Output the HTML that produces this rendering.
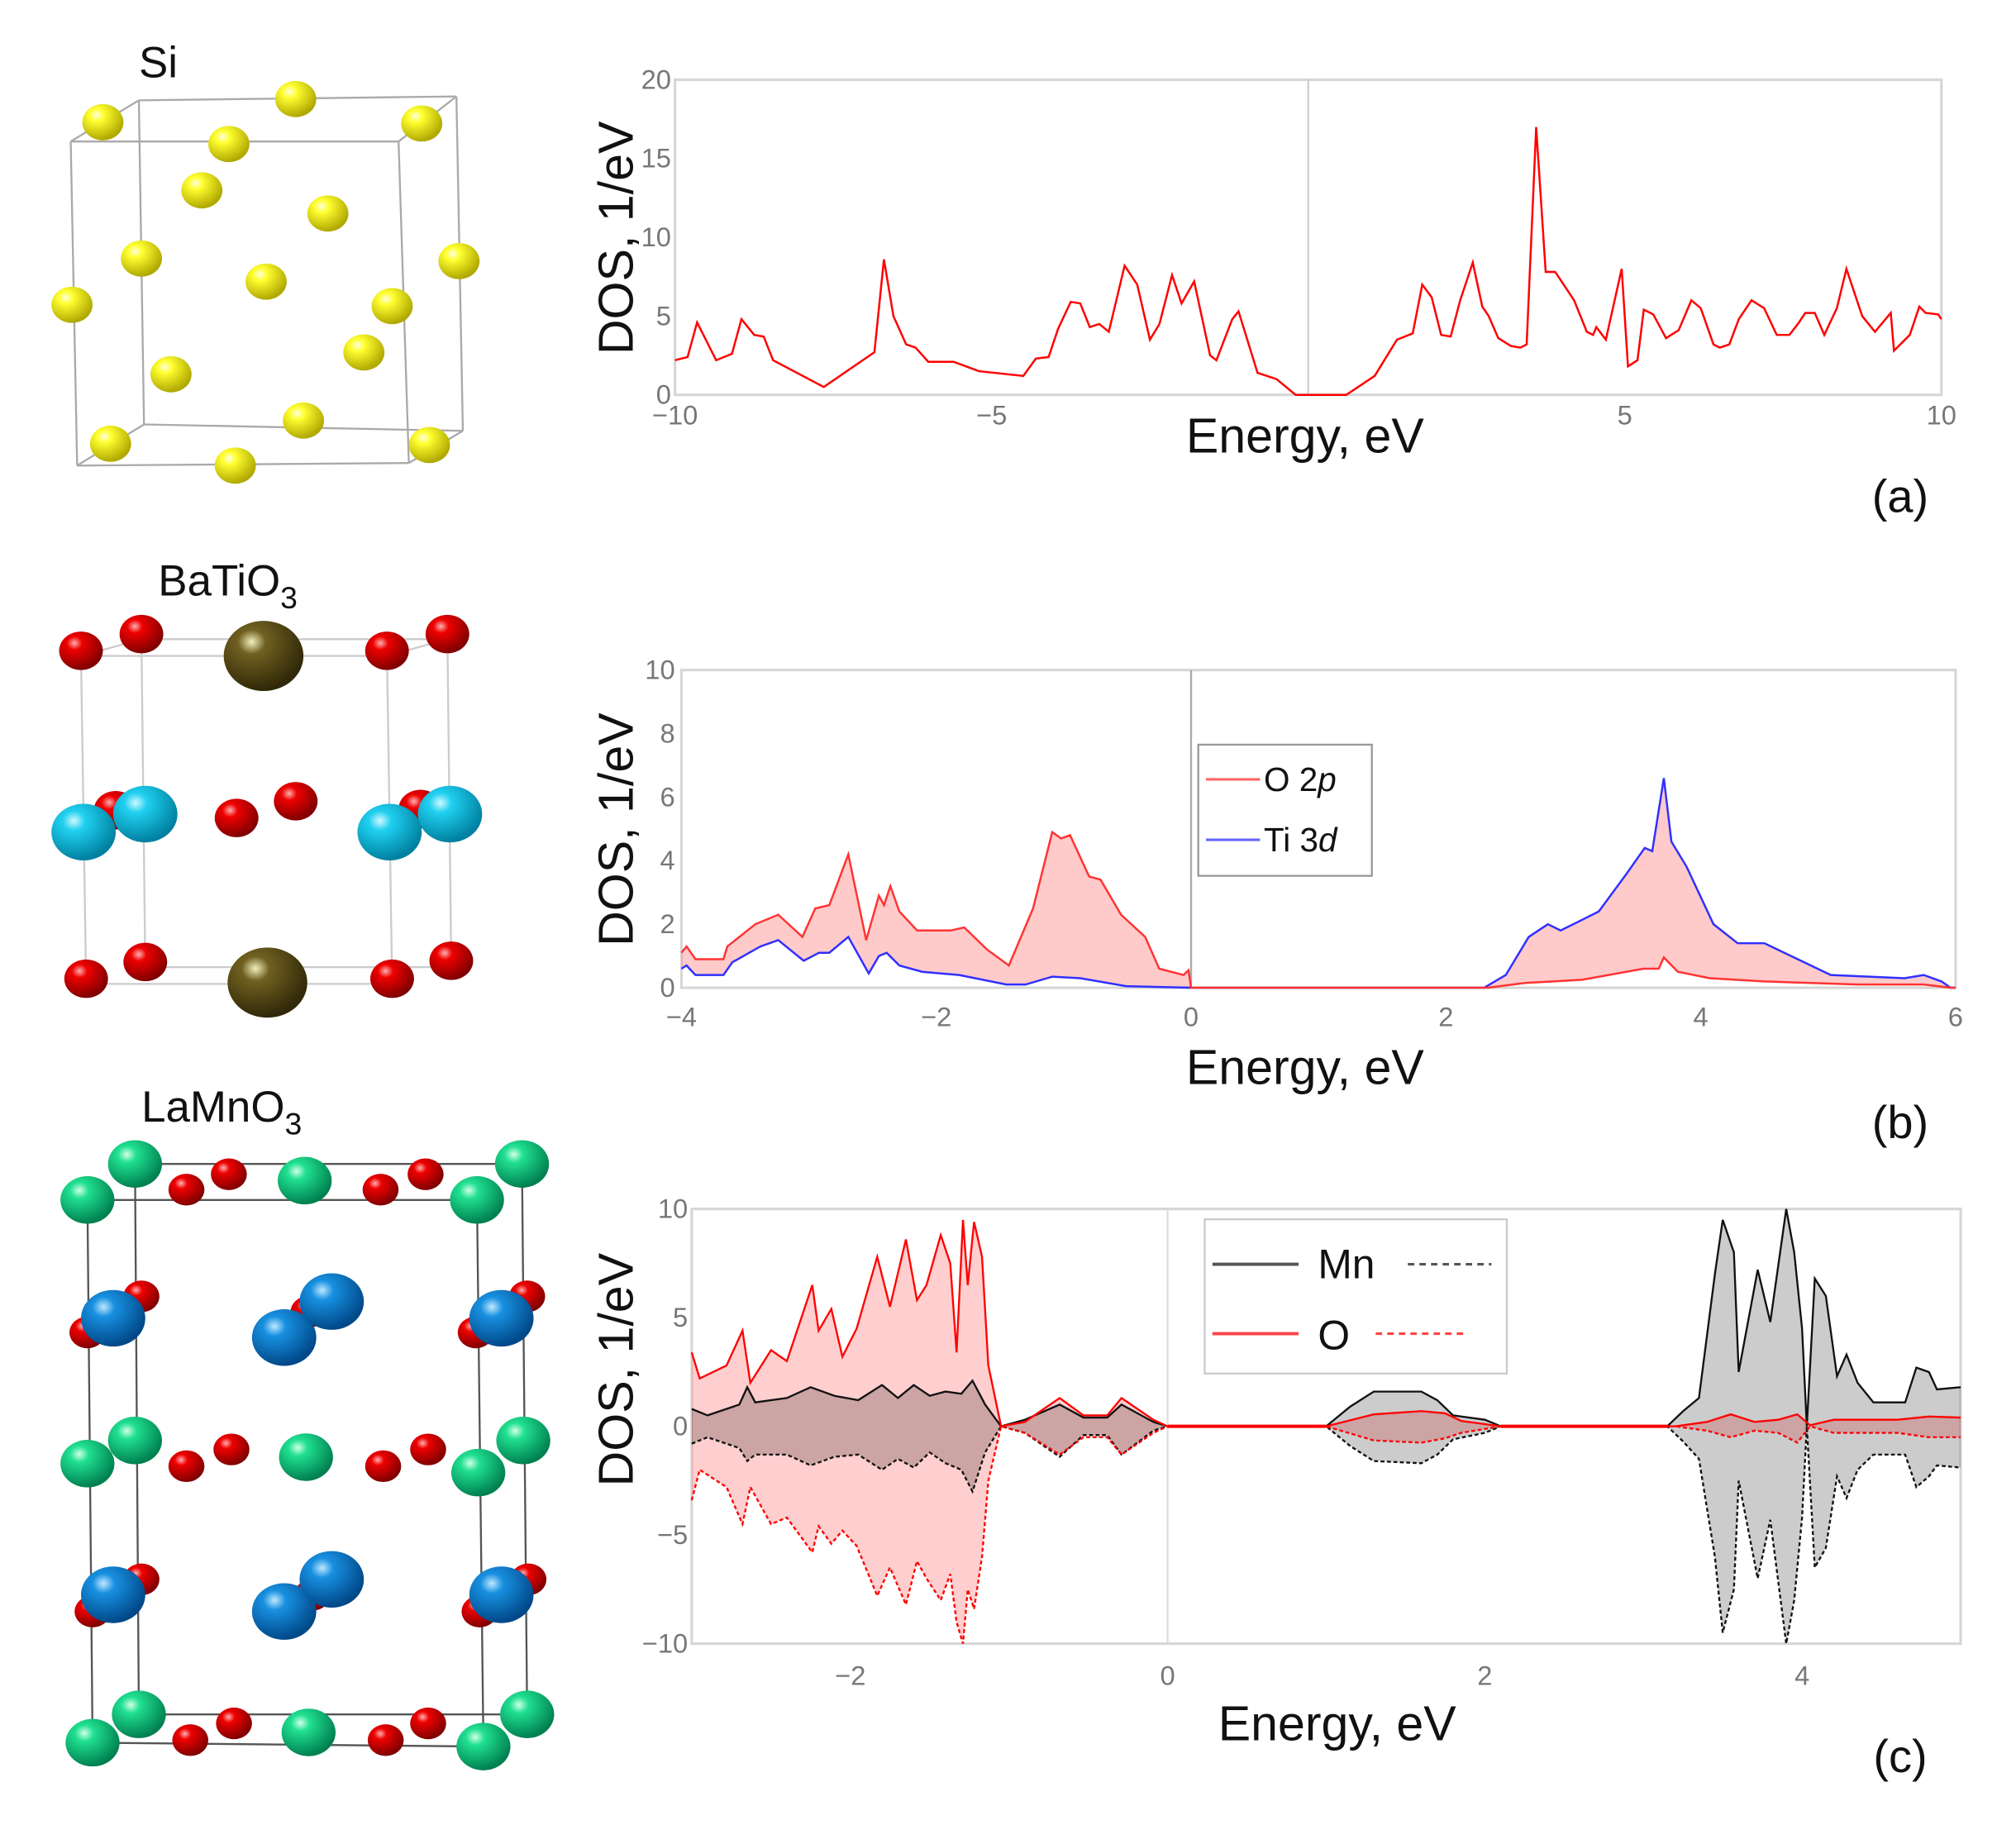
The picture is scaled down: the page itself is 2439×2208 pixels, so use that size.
<!DOCTYPE html>
<html><head><meta charset="utf-8"><style>
html,body{margin:0;padding:0;background:#fff;}
svg{display:block;}
text{font-family:"Liberation Sans",sans-serif;}
</style></head><body>
<svg id="fig" width="2439" height="2208" viewBox="0 0 1568 1419" preserveAspectRatio="none" xmlns="http://www.w3.org/2000/svg">
<defs>
<radialGradient id="gY" cx="0.35" cy="0.3" r="0.7"><stop offset="0" stop-color="#ffffe0"/><stop offset="0.25" stop-color="#ffff30"/><stop offset="1" stop-color="#b0a800"/></radialGradient>
<radialGradient id="gR" cx="0.35" cy="0.3" r="0.7"><stop offset="0" stop-color="#ffb0b0"/><stop offset="0.25" stop-color="#ee0000"/><stop offset="1" stop-color="#800000"/></radialGradient>
<radialGradient id="gC" cx="0.35" cy="0.3" r="0.7"><stop offset="0" stop-color="#d0f8ff"/><stop offset="0.25" stop-color="#20d0f0"/><stop offset="1" stop-color="#0080a0"/></radialGradient>
<radialGradient id="gBr" cx="0.35" cy="0.3" r="0.7"><stop offset="0" stop-color="#f0f0c0"/><stop offset="0.25" stop-color="#706020"/><stop offset="1" stop-color="#302808"/></radialGradient>
<radialGradient id="gG" cx="0.35" cy="0.3" r="0.7"><stop offset="0" stop-color="#d0ffe8"/><stop offset="0.25" stop-color="#20e090"/><stop offset="1" stop-color="#008050"/></radialGradient>
<radialGradient id="gB" cx="0.35" cy="0.3" r="0.7"><stop offset="0" stop-color="#c0e8ff"/><stop offset="0.25" stop-color="#1890e0"/><stop offset="1" stop-color="#004888"/></radialGradient>
</defs>
<g id="structs"></g>
<g id="plots"></g>
</svg>
<script>
// ---------- Panel (a) Si DOS ----------
const siE=[-10,-9.8,-9.65,-9.35,-9.1,-8.95,-8.75,-8.6,-8.45,-7.65,-6.85,-6.7,-6.55,-6.35,-6.2,-6.0,-5.6,-5.2,-4.5,-4.3,-4.1,-3.95,-3.75,-3.6,-3.45,-3.3,-3.15,-2.9,-2.7,-2.5,-2.35,-2.15,-2.0,-1.8,-1.55,-1.45,-1.2,-1.1,-0.8,-0.5,-0.2,0.6,1.05,1.4,1.65,1.8,1.95,2.1,2.25,2.4,2.6,2.75,2.85,3.0,3.2,3.35,3.45,3.6,3.75,3.9,4.2,4.4,4.5,4.55,4.7,4.95,5.05,5.2,5.3,5.45,5.65,5.85,6.05,6.2,6.4,6.5,6.65,6.8,7.0,7.2,7.4,7.6,7.75,7.85,8.0,8.15,8.35,8.5,8.75,8.95,9.2,9.25,9.5,9.65,9.75,9.95,10];
const siDOS=[2.2,2.4,4.6,2.2,2.6,4.8,3.8,3.7,2.2,0.5,2.7,8.6,5,3.2,3,2.1,2.1,1.5,1.2,2.3,2.4,4.2,5.9,5.8,4.3,4.5,4,8.2,7,3.5,4.5,7.6,5.8,7.2,2.5,2.2,4.8,5.3,1.4,1,0,0,1.2,3.5,3.9,7,6.2,3.8,3.7,6,8.4,5.6,5,3.6,3.1,3,3.2,17,7.8,7.8,6,4,3.8,4.3,3.5,8,1.8,2.2,5.4,5.1,3.6,4.1,6,5.5,3.2,3,3.2,4.8,6,5.5,3.8,3.8,4.6,5.2,5.2,3.8,5.5,8,5,4,5.2,2.8,3.8,5.6,5.2,5.1,4.8];
const aXTicks=[-10,-5,5,10];
const aYTicks=[0,5,10,15,20];
// ---------- Panel (b) BaTiO3 ----------
const oE=[-4,-3.96,-3.89,-3.67,-3.64,-3.42,-3.24,-3.05,-2.95,-2.84,-2.69,-2.55,-2.45,-2.41,-2.36,-2.29,-2.15,-1.89,-1.78,-1.6,-1.43,-1.24,-1.09,-1.02,-0.95,-0.8,-0.71,-0.55,-0.36,-0.25,-0.06,-0.02,0,2.33,2.62,3.07,3.55,3.67,3.71,3.82,4.07,4.5,5.24,5.75,5.96,6];
const oDOS=[1.1,1.3,0.9,0.9,1.3,2.0,2.3,1.6,2.5,2.6,4.2,1.5,2.9,2.6,3.2,2.4,1.8,1.8,1.9,1.2,0.7,2.5,4.9,4.7,4.8,3.5,3.4,2.3,1.6,0.6,0.4,0.55,0,0,0.15,0.25,0.6,0.6,0.95,0.5,0.3,0.2,0.1,0.1,0,0];
const tiE=[-4,-3.96,-3.89,-3.67,-3.6,-3.38,-3.24,-3.04,-2.92,-2.84,-2.69,-2.53,-2.45,-2.39,-2.29,-2.11,-1.82,-1.45,-1.3,-1.09,-0.87,-0.51,0,2.3,2.47,2.65,2.8,2.9,3.2,3.42,3.56,3.62,3.71,3.77,3.89,4.1,4.29,4.5,5.02,5.6,5.75,5.89,5.96,6];
const tiDOS=[0.6,0.7,0.4,0.4,0.8,1.3,1.5,0.85,1.1,1.1,1.6,0.45,1.0,1.1,0.7,0.5,0.4,0.1,0.1,0.35,0.3,0.05,0,0,0.4,1.6,2.0,1.8,2.4,3.6,4.4,4.3,6.6,4.6,3.8,2.0,1.4,1.4,0.4,0.3,0.4,0.2,0,0];
const bXTicks=[-4,-2,0,2,4,6];
const bYTicks=[0,2,4,6,8,10];
// ---------- Panel (c) LaMnO3 ----------
const cE=[-3,-2.95,-2.78,-2.68,-2.63,-2.5,-2.4,-2.24,-2.2,-2.12,-2.05,-1.96,-1.83,-1.75,-1.65,-1.58,-1.52,-1.43,-1.37,-1.33,-1.29,-1.26,-1.22,-1.17,-1.13,-1.05,-0.9,-0.68,-0.53,-0.38,-0.29,-0.09,0,1.0,1.3,1.6,1.75,1.85,2.1,3.2,3.4,3.55,3.7,3.85,3.97,4.05,4.2,4.6,4.8,5];
const oUp=[3.4,2.2,2.8,4.4,2.0,3.5,3.0,6.5,4.4,5.4,3.2,4.5,7.8,5.5,8.6,5.8,6.5,8.8,7.5,3.4,9.5,6.5,9.4,7.8,2.8,0,0.2,1.3,0.5,0.5,1.3,0.3,0,0,0.55,0.7,0.6,0.25,0,0,0.2,0.55,0.2,0.3,0.55,0.05,0.3,0.3,0.45,0.4];
const oDown=[-3.4,-2.0,-2.8,-4.5,-2.8,-4.5,-4.2,-5.8,-4.6,-5.4,-4.8,-5.5,-7.8,-6.5,-8.2,-6.2,-7.0,-8.0,-6.8,-9.0,-10,-7.5,-8.4,-6,-2.5,0,-0.3,-1.3,-0.5,-0.5,-1.3,-0.3,0,0,-0.65,-0.75,-0.55,-0.3,0,0,-0.2,-0.5,-0.2,-0.3,-0.75,0,-0.3,-0.3,-0.5,-0.5];
const mnE=[-3,-2.9,-2.7,-2.65,-2.6,-2.4,-2.25,-2.1,-1.95,-1.8,-1.7,-1.6,-1.5,-1.4,-1.3,-1.23,-1.15,-1.05,-0.9,-0.68,-0.53,-0.38,-0.29,-0.09,0,1.0,1.15,1.3,1.6,1.7,1.8,2.0,2.1,3.15,3.25,3.35,3.45,3.5,3.57,3.6,3.72,3.8,3.9,3.95,4.0,4.03,4.08,4.15,4.22,4.28,4.35,4.45,4.65,4.72,4.8,4.85,5];
const mnUp=[0.8,0.5,1.0,1.8,1.1,1.3,1.8,1.4,1.2,1.9,1.3,1.9,1.4,1.6,1.5,2.1,1.0,0,0.3,1.0,0.4,0.4,1.0,0.2,0,0,0.9,1.6,1.6,1.2,0.5,0.3,0,0,0.7,1.3,7,9.5,8.0,2.5,7.2,4.8,10,8,4.5,0,6.8,6.0,2.3,3.3,2.0,1.1,1.1,2.7,2.5,1.7,1.8];
const mnDown=[-0.8,-0.5,-1.0,-1.6,-1.3,-1.3,-1.8,-1.4,-1.3,-2.0,-1.5,-1.9,-1.2,-1.7,-2.0,-3.0,-1.2,0,-0.3,-1.4,-0.4,-0.4,-1.3,-0.2,0,0,-0.9,-1.6,-1.7,-1.3,-0.6,-0.3,0,0,-0.7,-1.5,-6,-9.5,-7.5,-2.5,-7.0,-4.3,-10,-8,-4.2,0,-6.5,-5.6,-2.3,-3.3,-2.0,-1.3,-1.3,-2.8,-2.3,-1.8,-1.9];
const cXTicks=[-2,0,2,4];
const cYTicks=[-10,-5,0,5,10];

const NS='http://www.w3.org/2000/svg';
function mk(tag,attrs,parent,txt){const e=document.createElementNS(NS,tag);for(const k in attrs)e.setAttribute(k,attrs[k]);if(txt!==undefined)e.textContent=txt;parent.appendChild(e);return e;}
const plots=document.getElementById('plots');
const structs=document.getElementById('structs');

function axes(x0,x1,y0,y1,X0,X1,Y0,Y1){
  return {sx:v=>X0+(v-x0)/(x1-x0)*(X1-X0), sy:v=>Y0+(v-y0)/(y1-y0)*(Y1-Y0)};
}
function pts(xs,ys,A){return xs.map((x,i)=>A.sx(x).toFixed(1)+','+A.sy(ys[i]).toFixed(1));}

function frame(g,X0,X1,Ytop,Ybot,name){
  const r=mk('rect',{x:X0,y:Ytop,width:X1-X0,height:Ybot-Ytop,fill:'none',stroke:'#d6d6d6','stroke-width':2},g);
  
  
}
function ticks(g,A,xt,yt,Ybot,X0,name,ylabelX,xLabelY){
  xt.forEach(t=>{const e=mk('text',{x:A.sx(t),y:xLabelY,'text-anchor':'middle','font-size':21,fill:'#777'},g,t<0?'\u2212'+(-t):String(t));
    
    });
  yt.forEach(t=>{const e=mk('text',{x:ylabelX,y:A.sy(t)+7,'text-anchor':'end','font-size':21,fill:'#777'},g,t<0?'\u2212'+(-t):String(t));
    
    });
}
function labels(g,cy,ex,ey,px,py,letter,name){
  const yl=mk('text',{x:0,y:0,transform:`translate(492,${cy}) rotate(-90)`,'text-anchor':'middle','font-size':38,fill:'#111'},g,'DOS, 1/eV');
  
  
  const xl=mk('text',{x:ex,y:ey,'text-anchor':'middle','font-size':38,fill:'#111'},g,'Energy, eV');
  
  
  const pl=mk('text',{x:px,y:py,'text-anchor':'middle','font-size':36,fill:'#111'},g,letter);
  
  
}

// Panel a
{
  const g=mk('g',{},plots);
  const A=axes(-10,10,0,20,525,1510,307,62);
  frame(g,525,1510,62,307,'panel-a');
  mk('line',{x1:A.sx(0),x2:A.sx(0),y1:62,y2:307,stroke:'#cfcfcf','stroke-width':1.5},g);
  ticks(g,A,aXTicks,aYTicks,307,525,'panel-a',522,330);
  const l=mk('polyline',{points:pts(siE,siDOS,A).join(' '),fill:'none',stroke:'#f00','stroke-width':1.6},g);
  
  
  labels(g,185,1015,352,1478,398,'(a)','panel-a');
}
// Panel b
{
  const g=mk('g',{},plots);
  const A=axes(-4,6,0,10,530,1521,768,521);
  frame(g,530,1521,521,768,'panel-b');
  mk('line',{x1:A.sx(0),x2:A.sx(0),y1:521,y2:768,stroke:'#aaa','stroke-width':1.5},g);
  ticks(g,A,bXTicks,bYTicks,768,530,'panel-b',525,798);
  const fp=pts(oE,oDOS,A).concat(pts(tiE,tiDOS,A).reverse());
  const f=mk('polygon',{points:fp.join(' '),fill:'rgba(255,80,80,0.3)',stroke:'none'},g);
  
  
  const lb=mk('polyline',{points:pts(tiE,tiDOS,A).join(' '),fill:'none',stroke:'#3030ff','stroke-width':1.6},g);
  
  
  const lr=mk('polyline',{points:pts(oE,oDOS,A).join(' '),fill:'none',stroke:'#f33','stroke-width':1.6},g);
  
  
  const lg=mk('g',{},g);
  mk('rect',{x:932,y:579,width:135,height:102,fill:'#fff',stroke:'#999','stroke-width':1.5},lg);
  mk('line',{x1:938,x2:980,y1:606,y2:606,stroke:'#f66','stroke-width':2},lg);
  mk('line',{x1:938,x2:980,y1:653,y2:653,stroke:'#66f','stroke-width':2},lg);
  const t1=mk('text',{x:983,y:615,'font-size':26,fill:'#111'},lg);t1.innerHTML='O 2<tspan font-style="italic">p</tspan>';
  
  const t2=mk('text',{x:983,y:662,'font-size':26,fill:'#111'},lg);t2.innerHTML='Ti 3<tspan font-style="italic">d</tspan>';
  
  labels(g,645,1015,843,1478,885,'(b)','panel-b');
}
// Panel c
{
  const g=mk('g',{},plots);
  const A=axes(-3,5,-10,10,538,1525,1278,940);
  frame(g,538,1525,940,1278,'panel-c');
  mk('line',{x1:A.sx(0),x2:A.sx(0),y1:940,y2:1278,stroke:'#ddd','stroke-width':1.5},g);
  ticks(g,A,cXTicks,cYTicks,1278,538,'panel-c',535,1310);
  const z=A.sy(0);
  function area(xs,ys,fill,name){const p=pts(xs,ys,A);p.unshift(A.sx(xs[0]).toFixed(1)+','+z);p.push(A.sx(xs[xs.length-1]).toFixed(1)+','+z);
    const e=mk('polygon',{points:p.join(' '),fill:fill,stroke:'none'},g);
    
    }
  area(cE,oUp,'rgba(255,60,60,0.25)','o-up-fill');
  area(cE,oDown,'rgba(255,60,60,0.25)','o-down-fill');
  area(mnE,mnUp,'rgba(0,0,0,0.2)','mn-up-fill');
  area(mnE,mnDown,'rgba(0,0,0,0.2)','mn-down-fill');
  function line(xs,ys,col,dash,name){const e=mk('polyline',{points:pts(xs,ys,A).join(' '),fill:'none',stroke:col,'stroke-width':1.5,'stroke-dasharray':dash},g);
    
    }
  line(mnE,mnUp,'#111','none','mn-up-line');
  line(mnE,mnDown,'#111','3,2','mn-down-line');
  line(cE,oUp,'#f00','none','o-up-line');
  line(cE,oDown,'#f00','3,2','o-down-line');
  mk('line',{x1:A.sx(0),x2:A.sx(1),y1:z,y2:z,stroke:'#f00','stroke-width':2.5},g);
  mk('line',{x1:A.sx(2.1),x2:A.sx(3.15),y1:z,y2:z,stroke:'#f00','stroke-width':2.5},g);
  const lg=mk('g',{},g);
  mk('rect',{x:937,y:948,width:235,height:120,fill:'#fff',stroke:'#ccc','stroke-width':1.5},lg);
  mk('line',{x1:943,x2:1010,y1:983,y2:983,stroke:'#555','stroke-width':2.5},lg);
  mk('line',{x1:1095,x2:1160,y1:983,y2:983,stroke:'#555','stroke-width':2,'stroke-dasharray':'5,4'},lg);
  mk('line',{x1:943,x2:1010,y1:1037,y2:1037,stroke:'#f44','stroke-width':2.5},lg);
  mk('line',{x1:1070,x2:1138,y1:1037,y2:1037,stroke:'#f44','stroke-width':2,'stroke-dasharray':'5,4'},lg);
  const m=mk('text',{x:1025,y:994,'font-size':32,fill:'#111'},lg,'Mn');
  const o=mk('text',{x:1025,y:1049,'font-size':32,fill:'#111'},lg,'O');
  labels(g,1065,1040,1353,1478,1378,'(c)','panel-c');
}

// ---------- Crystal structures ----------
function atom(g,x,y,r,grad,name){const e=mk('ellipse',{cx:x,cy:y,rx:r,ry:r*0.88,fill:'url(#'+grad+')'},g);
  
  }
function lines(g,segs,col){segs.forEach(s=>mk('line',{x1:s[0],y1:s[1],x2:s[2],y2:s[3],stroke:col,'stroke-width':1.5},g));}
{
  const g=mk('g',{},structs);
  lines(g,[[55,110,310,110],[310,110,318,360],[318,360,60,362],[60,362,55,110],[108,78,355,75],[355,75,360,335],[360,335,112,330],[112,330,108,78],[55,110,108,78],[310,110,355,75],[318,360,360,335],[60,362,112,330]],'#aaa');
  [[80,95],[230,77],[328,96],[178,112],[157,148],[255,166],[110,201],[357,203],[207,219],[56,237],[305,238],[283,274],[133,291],[236,327],[86,345],[334,346],[183,362]].forEach(p=>atom(g,p[0],p[1],16,'gY','si-atom'));
  const t=mk('text',{x:108,y:60,'font-size':34,fill:'#111'},g,'Si');
}
{
  const g=mk('g',{},structs);
  lines(g,[[63,510,301,510],[110,497,348,497],[63,765,305,765],[113,752,351,752],[63,510,67,765],[110,497,113,752],[301,510,305,765],[348,497,351,752],[63,510,110,497],[301,510,348,497]],'#ccc');
  [[63,506],[110,493],[301,506],[348,493],[90,630],[184,636],[230,623],[327,629],[67,761],[113,748],[305,761],[351,747]].forEach(p=>atom(g,p[0],p[1],17,'gR','o-atom'));
  [[113,633],[350,633],[65,647],[303,647]].forEach(p=>atom(g,p[0],p[1],25,'gC','ti-atom'));
  [[205,510],[208,764]].forEach(p=>atom(g,p[0],p[1],31,'gBr','ba-atom'));
  const t=mk('text',{x:123,y:463,'font-size':34,fill:'#111'},g);t.innerHTML='BaTiO<tspan font-size="24" dy="10">3</tspan>';
  
}
{
  const g=mk('g',{},structs);
  lines(g,[[68,933,371,933],[105,905,406,905],[72,1355,376,1358],[108,1333,410,1333],[68,933,72,1355],[105,905,108,1333],[371,933,376,1358],[406,905,410,1333]],'#555');
  [[68,933],[105,905],[237,918],[371,933],[406,905],[68,1138],[105,1120],[238,1133],[372,1145],[407,1120],[72,1355],[108,1333],[240,1347],[376,1358],[410,1333]].forEach(p=>atom(g,p[0],p[1],21,'gG','la-atom'));
  [[145,925],[178,913],[296,925],[331,913],[110,1008],[68,1036],[240,1020],[370,1036],[410,1008],[145,1140],[180,1127],[298,1140],[333,1127],[110,1228],[72,1253],[243,1240],[373,1253],[411,1228],[148,1353],[182,1340],[300,1353],[333,1340]].forEach(p=>atom(g,p[0],p[1],14,'gR','o-atom'));
  [[88,1025],[221,1040],[258,1012],[390,1025],[88,1240],[221,1253],[258,1228],[390,1240]].forEach(p=>atom(g,p[0],p[1],25,'gB','mn-atom'));
  const t=mk('text',{x:110,y:872,'font-size':34,fill:'#111'},g);t.innerHTML='LaMnO<tspan font-size="24" dy="10">3</tspan>';
  
}
</script>
</body></html>
